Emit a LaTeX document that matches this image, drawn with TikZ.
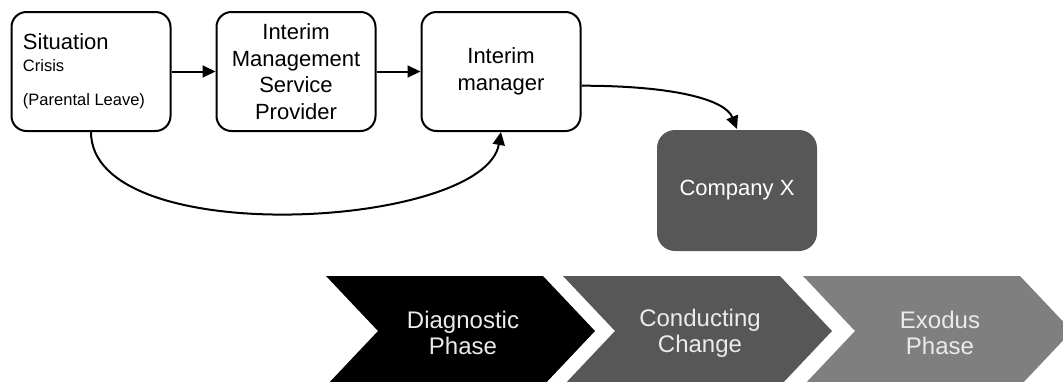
\documentclass[tikz,border=0pt]{standalone}
\usepackage{fontspec}
\setmainfont{Liberation Sans}
\usepackage{xcolor}
\usepackage{tikz}
\usetikzlibrary{arrows.meta,positioning}
\definecolor{darkbox}{HTML}{575757}
\definecolor{midgrey}{HTML}{7F7F7F}

\begin{document}
\begin{tikzpicture}[x=1pt, y=-1pt, node distance=44pt,
    every node/.style={font=\fontsize{22}{26.5}\selectfont},
    box/.style={draw, line width=2pt, rounded corners=15pt, fill=white,
      minimum width=159pt, minimum height=119pt, align=center},
    conn/.style={line width=2pt, -{Triangle[length=13pt,width=12pt]}},
    phasetxt/.style={text=white!92!black, align=center,
      font=\fontsize{24}{26}\selectfont}]
  \useasboundingbox (0,0) rectangle (1063,381);
  \clip (0,0) rectangle (1063,381);
  % upper row
  \node[box, text width=136pt, align=flush left, font=\fontsize{22}{22}\selectfont]
    (sit) at (91,71.5) {Situation\\{\fontsize{16.5}{22}\selectfont Crisis}\\[12pt]%
    {\fontsize{16.5}{22}\selectfont (Parental Leave)}};
  \node[box, right=of sit] (prov) {Interim\\Management\\Service\\Provider};
  \node[box, right=of prov, font=\fontsize{22}{27}\selectfont] (mgr) {Interim\\manager};
  \node[box, draw=none, fill=darkbox, text=white, rounded corners=18pt,
    minimum width=160pt, minimum height=121pt] (comp) at (737,190.5) {Company X};
  \draw[conn] (sit) -- (prov);
  \draw[conn] (prov) -- (mgr);
  \draw[conn] (sit.south) .. controls +(0,119) and +(-17,97) .. (mgr.south);
  \draw[conn] (mgr.-10) .. controls +(90,0) and +(-12,-30) .. (comp.north);
  % phases
  \foreach \x/\col/\txt [count=\i] in {326/black/{Diagnostic\\Phase},
      563/darkbox/{Conducting\\Change}, 803/midgrey/{Exodus\\Phase}} {
    \fill[\col] (\x,276) -- ++(217,0) -- ++(52,55) -- ++(-52,55)
      -- ++(-217,0) -- ++(52,-55) -- cycle;
    \node[phasetxt] (ph\i) at (\x+137,333) {\txt};
  }
\end{tikzpicture}
\end{document}
